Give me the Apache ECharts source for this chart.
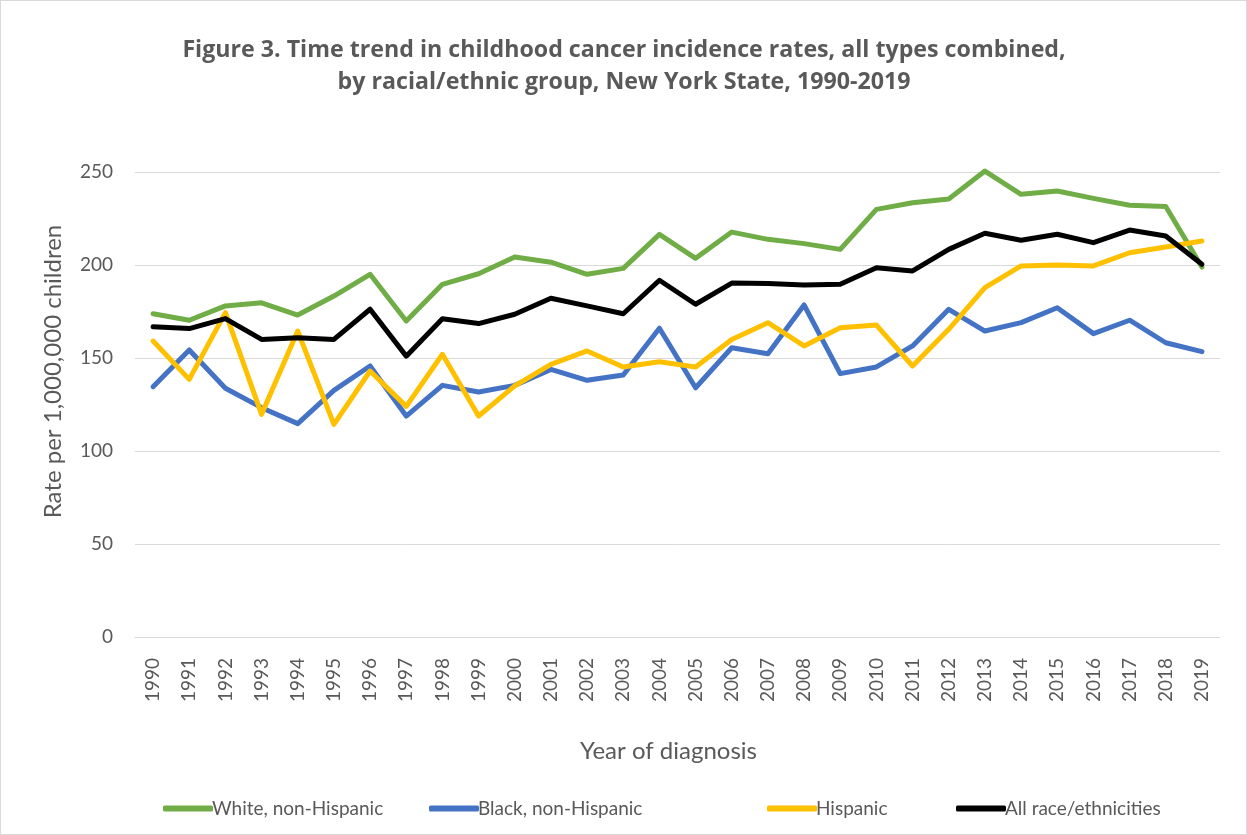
<!DOCTYPE html>
<html>
<head>
<meta charset="utf-8">
<script src="https://cdn.jsdelivr.net/npm/echarts@6/dist/echarts.min.js"></script>
<style>
  html, body { margin: 0; padding: 0; background: #fff; }
  #chart { width: 1245px; height: 833px; border: 1px solid #d9d9d9; }
</style>
</head>
<body>
<div id="chart"></div>
<script>
// 年份
const years = ['1990','1991','1992','1993','1994','1995','1996','1997','1998','1999',
  '2000','2001','2002','2003','2004','2005','2006','2007','2008','2009',
  '2010','2011','2012','2013','2014','2015','2016','2017','2018','2019'];

// 各组发病率（每百万儿童）
const white = [173.8, 170.3, 178, 179.7, 173.1, 183.3, 195, 169.9, 189.6, 195.3,
  204.3, 201.5, 195, 198.2, 216.5, 203.6, 217.7, 213.8, 211.5, 208.4,
  229.9, 233.5, 235.5, 250.5, 238, 239.8, 235.8, 232.1, 231.5, 198.9];
const black = [134.6, 154.3, 133.7, 123.3, 114.7, 132.6, 145.7, 118.8, 135.3, 131.7,
  135.3, 143.9, 138, 140.9, 166, 134, 155.5, 152.3, 178.5, 141.6,
  145.2, 156.5, 176.2, 164.5, 169, 177, 163.1, 170.3, 158.2, 153.4];
const hispanic = [159.1, 138.5, 174.4, 119.7, 164.5, 114.3, 143, 124, 152, 118.8,
  135, 146.6, 153.8, 145.2, 148, 145.2, 160, 169, 156.5, 166.3,
  167.7, 145.7, 165.4, 187.8, 199.5, 200, 199.5, 206.6, 209.7, 212.9];
const allRaces = [166.8, 165.8, 171.2, 160, 160.9, 160, 176.2, 151, 171.1, 168.5,
  173.5, 182.1, 178, 173.8, 191.8, 178.9, 190.3, 190, 189.2, 189.6,
  198.5, 196.8, 208.4, 217.1, 213.3, 216.5, 212, 218.8, 215.6, 200.4];

const seriesNames = ['White, non-Hispanic', 'Black, non-Hispanic', 'Hispanic', 'All race/ethnicities'];
const seriesData = [white, black, hispanic, allRaces];
const seriesColors = ['#70AD47', '#4472C4', '#FFC000', '#000000'];

const FONT = 'Lato';
const TEXT = '#595959';

const legendLeft = [157, 423, 761, 950];

const option = {
  animation: false,
  title: {
    text: 'Figure 3. Time trend in childhood cancer incidence rates, all types combined,\nby racial/ethnic group, New York State, 1990-2019',
    left: 618,
    top: 28,
    textAlign: 'center',
    textStyle: { fontFamily: 'Open Sans', fontSize: 23.2, fontWeight: 'bold', color: TEXT, lineHeight: 32 }
  },
  legend: seriesNames.map((n, i) => ({
    data: [n],
    left: legendLeft[i],
    top: 793,
    itemWidth: 50,
    itemHeight: 6,
    itemGap: 0,
    icon: 'roundRect',
    textStyle: { fontFamily: FONT, fontSize: 19, color: TEXT, padding: [0, 0, 0, -6] }
  })),
  grid: { left: 134, right: 26, top: 171, bottom: 197 },
  xAxis: {
    type: 'category',
    data: years,
    boundaryGap: true,
    name: 'Year of diagnosis',
    nameLocation: 'middle',
    nameGap: 102,
    nameTextStyle: { fontFamily: FONT, fontSize: 24, color: TEXT, padding: [0, 18, 0, 0] },
    axisLine: { lineStyle: { color: '#d9d9d9', width: 1 } },
    axisTick: { show: false },
    axisLabel: { rotate: 90, interval: 0, margin: 21, fontFamily: FONT, fontSize: 19, color: TEXT }
  },
  yAxis: {
    type: 'value',
    min: 0,
    max: 250,
    interval: 50,
    name: 'Rate per 1,000,000 children',
    nameLocation: 'middle',
    nameGap: 70,
    nameTextStyle: { fontFamily: FONT, fontSize: 24, color: TEXT, padding: [0, 0, 0, 66] },
    axisLine: { show: false },
    axisTick: { show: false },
    axisLabel: { margin: 22, fontFamily: FONT, fontSize: 19, color: TEXT },
    splitLine: { lineStyle: { color: '#d9d9d9', width: 1 } }
  },
  series: seriesNames.map((n, i) => ({
    name: n,
    type: 'line',
    data: seriesData[i],
    symbol: 'none',
    clip: false,
    color: seriesColors[i],
    lineStyle: { width: 5, color: seriesColors[i], join: 'round', cap: 'round' }
  }))
};

const chart = echarts.init(document.getElementById('chart'));
chart.setOption(option);
</script>
</body>
</html>
